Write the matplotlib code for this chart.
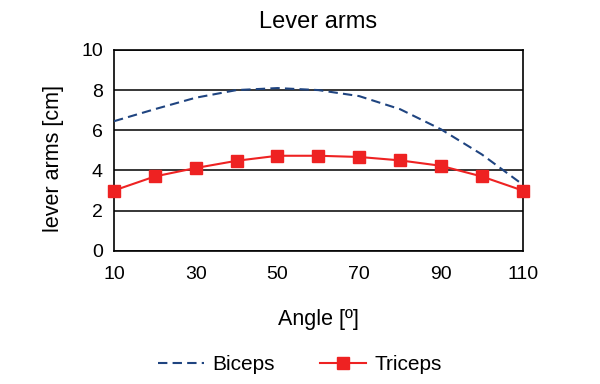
import matplotlib
matplotlib.use("Agg")
import matplotlib.pyplot as plt

plt.rcParams['font.family'] = ['Liberation Sans', 'DejaVu Sans']

angles = [10, 20, 30, 40, 50, 60, 70, 80, 90, 100, 110]
biceps = [6.45, 7.05, 7.62, 8.0, 8.1, 8.0, 7.7, 7.05, 6.05, 4.8, 3.3]
triceps = [3.0, 3.7, 4.12, 4.48, 4.73, 4.73, 4.67, 4.5, 4.23, 3.7, 3.0]
xticks = [10, 30, 50, 70, 90, 110]
yticks = [0, 2, 4, 6, 8, 10]

fig = plt.figure(figsize=(6, 3.84), dpi=100)
ax = fig.add_axes([0.19, 0.347, 0.681, 0.523])

for y in yticks:
    ax.axhline(y, color='black', lw=1.1, zorder=1)

ax.plot(angles, biceps, color='#1f4480', lw=1.5, ls=(0, (4.5, 2.5)), label='Biceps', zorder=3)
ax.plot(angles, triceps, color='#ee2222', lw=1.5, marker='s', markersize=8,
        label='Triceps', zorder=4, clip_on=False)

ax.set_xlim(10, 110)
ax.set_ylim(0, 10)
ax.set_xticks(xticks)
ax.set_yticks(yticks)
ax.tick_params(axis='both', length=0, labelsize=14)
ax.tick_params(axis='y', pad=8)
ax.tick_params(axis='x', pad=11)
for s in ax.spines.values():
    s.set_color('black')
    s.set_linewidth(1.2)

ax.set_title('Lever arms', fontsize=17, pad=16)
ax.set_xlabel('Angle [º]', fontsize=15.5, va='center')
ax.xaxis.set_label_coords(0.5, -0.34)
ax.set_ylabel('lever arms [cm]', fontsize=15.5, va='center')
ax.yaxis.set_label_coords(-0.147, 0.46)

fig.legend(loc='center', bbox_to_anchor=(0.5, 0.05), ncol=2, frameon=False,
           fontsize=15, handlelength=2.2, columnspacing=2.2, handletextpad=0.4)

fig.savefig('out.png', dpi=100)
